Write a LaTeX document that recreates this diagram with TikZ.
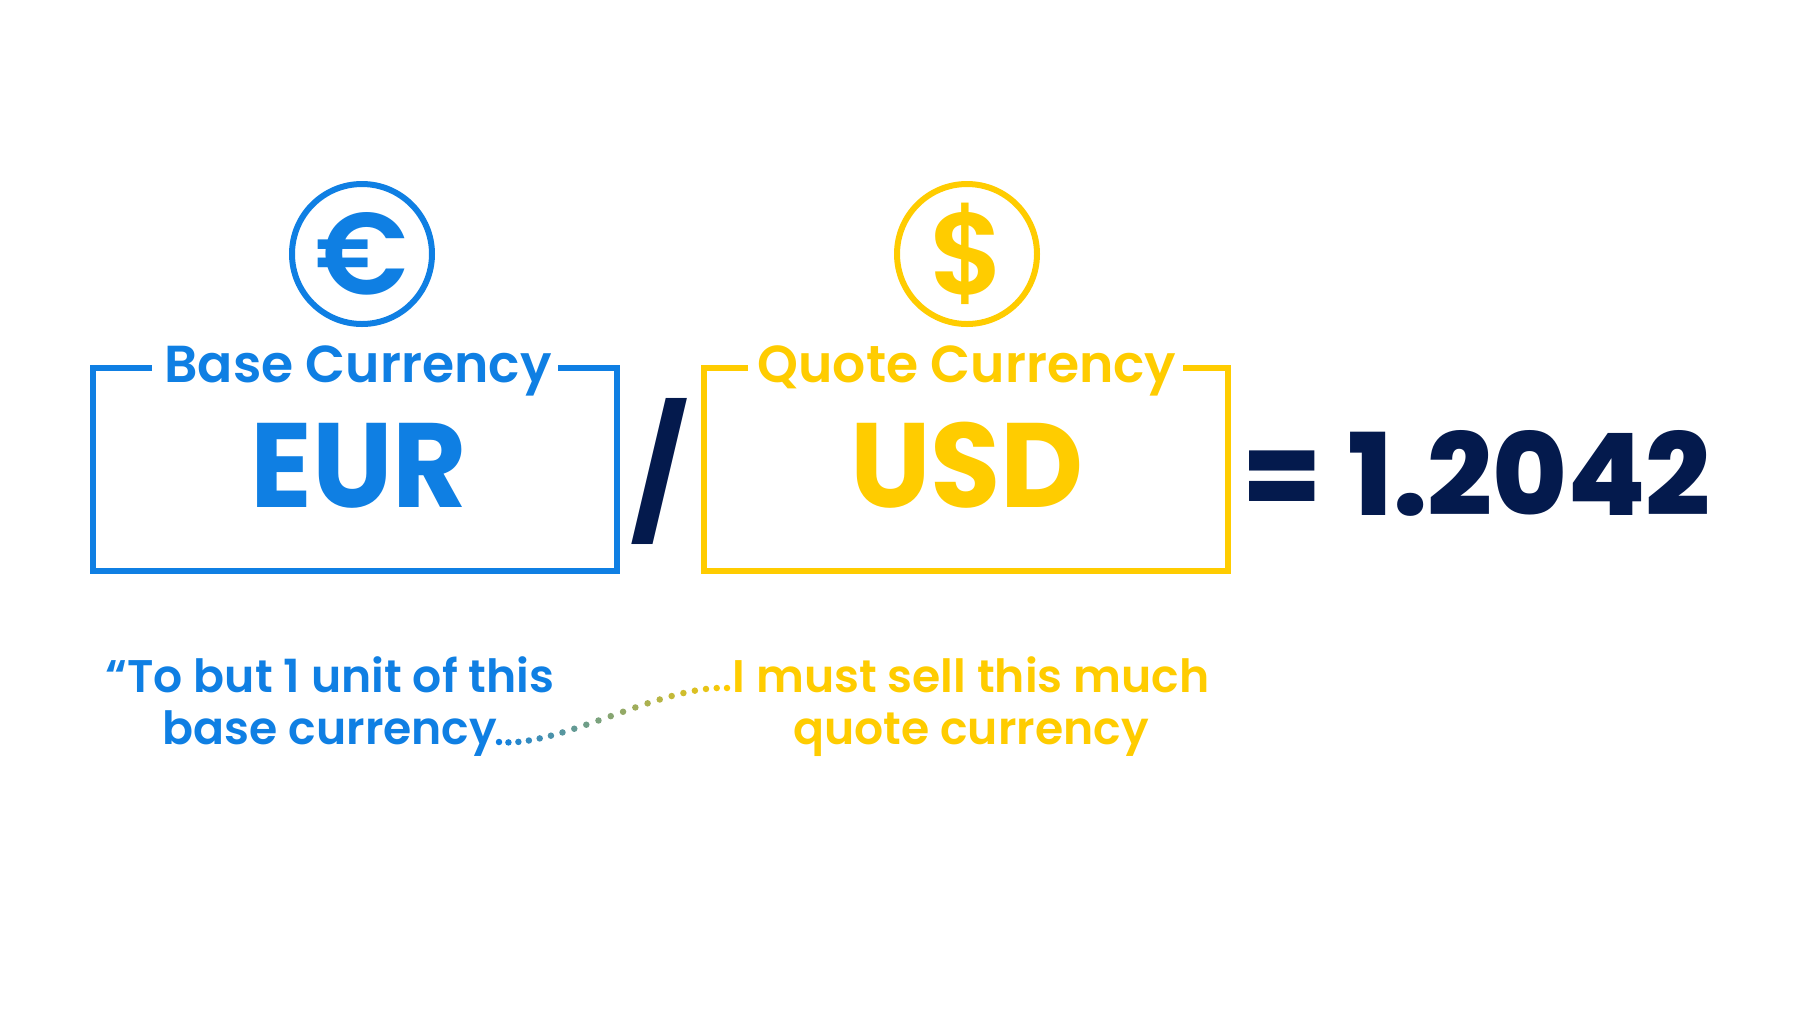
\documentclass[tikz,border=0pt]{standalone}
\usepackage{fontspec}
\setmainfont{Poppins}
\newfontfamily\semifont{Poppins SemiBold}
\newfontfamily\codefont{Poppins Bold}[FakeStretch=0.952]
\newfontfamily\ratefont{Poppins ExtraBold}
\definecolor{baseblue}{HTML}{0F7FE3}
\definecolor{quoteyellow}{HTML}{FFCC00}
\definecolor{ratenavy}{HTML}{041A4D}

\begin{document}
\begin{tikzpicture}[x=1pt,y=-1pt,
	coin/.style={circle, line width=6pt, minimum size=140pt, inner sep=0pt, font=\semifont\fontsize{116}{116}\selectfont},
	tag/.style={anchor=base, inner sep=0pt, font=\semifont\fontsize{52}{52}\selectfont},
	code/.style={anchor=base, inner sep=0pt, font=\codefont\fontsize{120}{120}\selectfont},
	phrase/.style={anchor=base, inner sep=0pt, align=center, font=\semifont\fontsize{45.7}{52}\selectfont}]
\useasboundingbox (0,0) rectangle (1800,1013);
\node [coin, draw=baseblue, text=baseblue] (euro) at (362,254) {€};
\node [coin, draw=quoteyellow, text=quoteyellow] (dollar) at (967,254) {\$};
\node [tag, text=baseblue] (basetag) at (358,382) {Base Currency};
\node [tag, text=quoteyellow] (quotetag) at (967,382) {Quote Currency};
\draw [line width=6pt, baseblue] (152,368) -| (93,571) -| (617,368) -- (558,368);
\draw [line width=6pt, quoteyellow] (748,368) -| (704,571) -| (1228,368) -- (1183,368);
\node [code, text=baseblue] (eur) at (359,507) {EUR};
\node [code, text=quoteyellow] (usd) at (967,507) {USD};
\node [inner sep=0pt, text=ratenavy, font=\bfseries\fontsize{128.5}{128.5}\selectfont] (slash) at (660,471) {/};
\node [anchor=base east, inner sep=0pt, text=ratenavy, font=\ratefont\fontsize{114}{114}\selectfont] (rate) at (1711,515) {=\hspace{29pt}1.2042};
\node [phrase, text=baseblue] (basetext) at (330,744) {“To but 1 unit of this\\base currency};
\node [phrase, text=quoteyellow] (quotetext) at (971,744) {I must sell this much\\quote currency};
\coordinate (dotstart) at (499,742);
\coordinate (dotend) at (727,688);
\foreach \i in {0,...,20} {
	\pgfmathsetmacro{\dotpos}{\i/20}
	\pgfmathsetmacro{\dotmix}{100*\i/20}
	\path (dotstart) .. controls (560,748) and (660,685) .. (dotend)
		node [pos=\dotpos, circle, inner sep=0pt, minimum size=6.5pt, fill=quoteyellow!\dotmix!baseblue] (dot\i) {};
}
\end{tikzpicture}
\end{document}
